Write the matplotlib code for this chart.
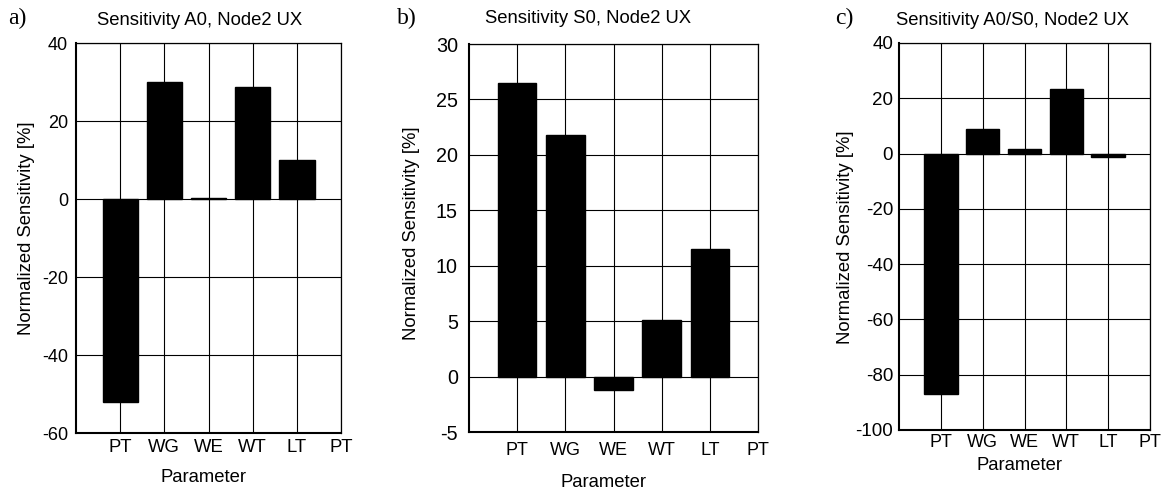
import matplotlib
matplotlib.use("Agg")
import matplotlib.pyplot as plt
import numpy as np

plt.rcParams['font.family'] = ['Liberation Sans', 'DejaVu Sans']
plt.rcParams['axes.unicode_minus'] = False

tick_labels = ["PT", "WG", "WE", "WT", "LT", "PT"]
params = ["PT", "WG", "WE", "WT", "LT"]

sens_A0 = [-52.0, 30.0, 0.3, 28.8, 10.0]
sens_S0 = [26.5, 21.8, -1.25, 5.1, 11.5]
sens_A0S0 = [-87.0, 8.9, 1.7, 23.5, -1.4]

titles = ["Sensitivity A0, Node2 UX", "Sensitivity S0, Node2 UX", "Sensitivity A0/S0, Node2 UX"]
panel_labels = ["a)", "b)", "c)"]
ylims = [(-60, 40), (-5, 30), (-100, 40)]
yticks = [np.arange(-60, 41, 20), np.arange(-5, 31, 5), np.arange(-100, 41, 20)]
data = [sens_A0, sens_S0, sens_A0S0]

W, H = 1162, 490
fig = plt.figure(figsize=(W / 100, H / 100), dpi=100)

# layout in pixels
boxes = [(76, 341, 43, 433), (469, 758, 44, 432), (899, 1150, 43, 430)]
xtick_fs = [13.3, 13.0, 13.0]
ytick_fs = [13.0, 14.2, 13.5]
xtick_pad = [4.5, 7.0, 3.0]
ytick_pad = [5.8, 8.0, 4.3]
title_pos = [(200, 25), (588, 23), (1013, 25)]
xlab_pos = [(204, 482), (603, 487), (1020, 470)]
ylab_pos = [(27, 228), (411, 233), (845, 237)]
plab_pos = [(8, 18), (397, 18), (835, 18)]
lab_fs = 13.3


def px(xp, yp):
    return xp / W, 1 - yp / H


for i in range(3):
    l, r, t, b = boxes[i]
    ax = fig.add_axes([l / W, 1 - b / H, (r - l) / W, (b - t) / H])
    x = np.arange(1, len(params) + 1)
    ax.bar(x, data[i], width=0.8, color='black', edgecolor='black', zorder=3)
    ax.set_xlim(0, 6)
    ax.set_ylim(*ylims[i])
    ax.set_xticks(np.arange(1, 7))
    ax.set_xticklabels(tick_labels)
    ax.set_yticks(yticks[i])
    ax.grid(True, color='black', linewidth=0.8, zorder=0)
    ax.set_axisbelow(True)
    ax.tick_params(axis='x', length=0, labelsize=xtick_fs[i], pad=xtick_pad[i])
    ax.tick_params(axis='y', length=0, labelsize=ytick_fs[i], pad=ytick_pad[i])
    for side in ['left', 'bottom']:
        ax.spines[side].set_linewidth(1.5)
    for side in ['top', 'right']:
        ax.spines[side].set_linewidth(0.9)

    fig.text(*px(*title_pos[i]), titles[i], fontsize=lab_fs, ha='center', va='baseline')
    fig.text(*px(*xlab_pos[i]), "Parameter", fontsize=lab_fs, ha='center', va='baseline')
    fig.text(*px(*ylab_pos[i]), "Normalized Sensitivity [%]", fontsize=lab_fs,
             ha='center', va='center', rotation=90)
    fig.text(*px(*plab_pos[i]), panel_labels[i],
             family=['Liberation Serif', 'DejaVu Serif'], fontsize=17, va='center', ha='left')

fig.savefig("out.png", dpi=100)
